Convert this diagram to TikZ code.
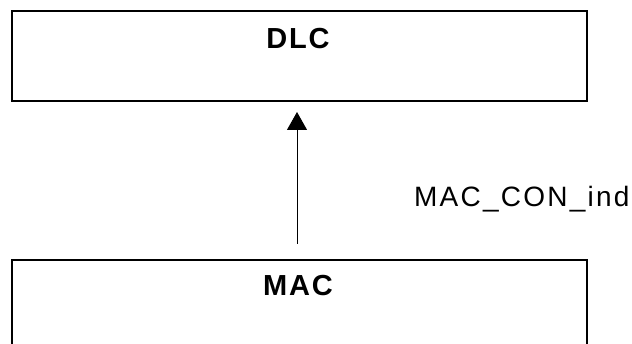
\documentclass[tikz,border=0pt]{standalone}
\usepackage{fontspec}
\setmainfont{Liberation Sans}
\usetikzlibrary{arrows.meta}
\begin{document}
\begin{tikzpicture}[x=1pt,y=-1pt,
  layerbox/.style={draw=black, line width=1.6pt, minimum width=575pt, minimum height=90pt, inner sep=0pt, anchor=north west},
  title/.style={font=\fontsize{29}{32}\selectfont\bfseries\addfontfeatures{LetterSpace=6}, inner sep=0pt, anchor=base},
  sig/.style={font=\fontsize{28}{32}\selectfont\addfontfeatures{LetterSpace=8}, inner sep=0pt, anchor=base west},
  conn/.style={line width=1pt, -{Triangle[width=20pt,length=18pt]}}]
\useasboundingbox (0,0) rectangle (632,344);
\clip (0,0) rectangle (632,344);
\node[layerbox] (dlc) at (11,10) {};
\node[title] (dlct) at (298,48.5) {DLC};
\node[layerbox, minimum height=110pt] (mac) at (11,259) {};
\node[title] (mact) at (298,296) {MAC};
\coordinate (a1) at (297,244);
\coordinate (a2) at (297,112);
\draw[conn] (a1) -- (a2);
\node[sig] (lbl) at (414,206.5) {MAC\_CON\_ind};
\end{tikzpicture}
\end{document}
